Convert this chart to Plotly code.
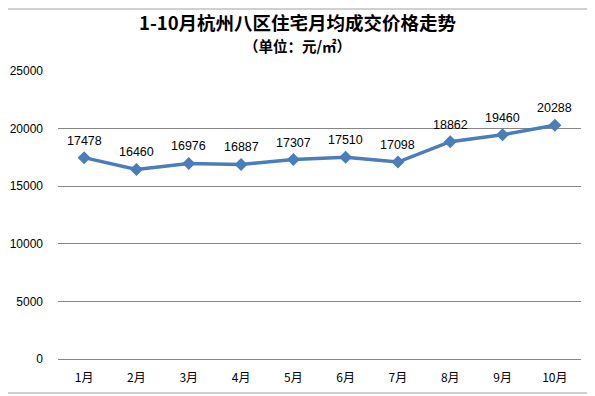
import plotly.graph_objects as go

months = ["1月", "2月", "3月", "4月", "5月", "6月", "7月", "8月", "9月", "10月"]
prices = [17478, 16460, 16976, 16887, 17307, 17510, 17098, 18862, 19460, 20288]
y_ticks = [0, 5000, 10000, 15000, 20000, 25000]

title_main = "1-10月杭州八区住宅月均成交价格走势"
title_sub = "（单位：元/㎡）"

OFF = 8  # page body margin
W, H = 595 - OFF, 396 - OFF
L, R, T, B = 58 - OFF, 14, 71 - OFF, 37
pw, ph = W - L - R, H - T - B

def px_x(x):
    return (x - OFF - L) / pw

def px_y(y):
    return 1 - (y - OFF - T) / ph

fig = go.Figure()
fig.add_trace(go.Scatter(
    x=months, y=prices, mode="lines+markers",
    line=dict(color="#4A7EBB", width=3.5),
    marker=dict(symbol="diamond", size=10, color="#4A7EBB"),
    hoverinfo="x+y", showlegend=False,
))

for m, v in zip(months, prices):
    fig.add_annotation(x=m, y=v, text=str(v), showarrow=False, yshift=17,
                       font=dict(size=12.5, color="#000000", family="Liberation Sans, Arial"))

fig.add_annotation(xref="paper", yref="paper", x=px_x(297), y=px_y(22),
                   text="<b>" + title_main + "</b>",
                   showarrow=False, xanchor="center", yanchor="middle",
                   font=dict(size=18.5, family="Noto Sans CJK SC", color="#000000"))
fig.add_annotation(xref="paper", yref="paper", x=px_x(297), y=px_y(45),
                   text="<b>" + title_sub + "</b>",
                   showarrow=False, xanchor="center", yanchor="middle",
                   font=dict(size=14.5, family="Noto Sans CJK SC", color="#000000"))

fig.add_shape(type="rect", xref="paper", yref="paper",
              x0=px_x(2), x1=px_x(590), y0=px_y(393), y1=px_y(9),
              line=dict(color="#A0A0A0", width=1), layer="below")

fig.update_layout(
    width=W, height=H,
    margin=dict(l=L, r=R, t=T, b=B, pad=0, autoexpand=False),
    paper_bgcolor="white", plot_bgcolor="white",
    font=dict(family="Noto Sans CJK SC, Liberation Sans", size=12, color="#000000"),
    xaxis=dict(type="category", range=[-0.5, 9.5], showgrid=False, showline=False,
               automargin=False,
               ticks="", ticklabelstandoff=10, tickfont=dict(size=12), fixedrange=True),
    yaxis=dict(range=[0, 25000], tickvals=y_ticks, ticktext=[str(t) for t in y_ticks],
               automargin=False,
               showgrid=True, gridcolor="#868686", gridwidth=1,
               zeroline=True, zerolinecolor="#868686", zerolinewidth=1,
               showline=False, ticks="", ticklabelstandoff=14,
               tickfont=dict(size=12, family="Liberation Sans, Arial"), fixedrange=True),
)

fig.write_html("out.html")
